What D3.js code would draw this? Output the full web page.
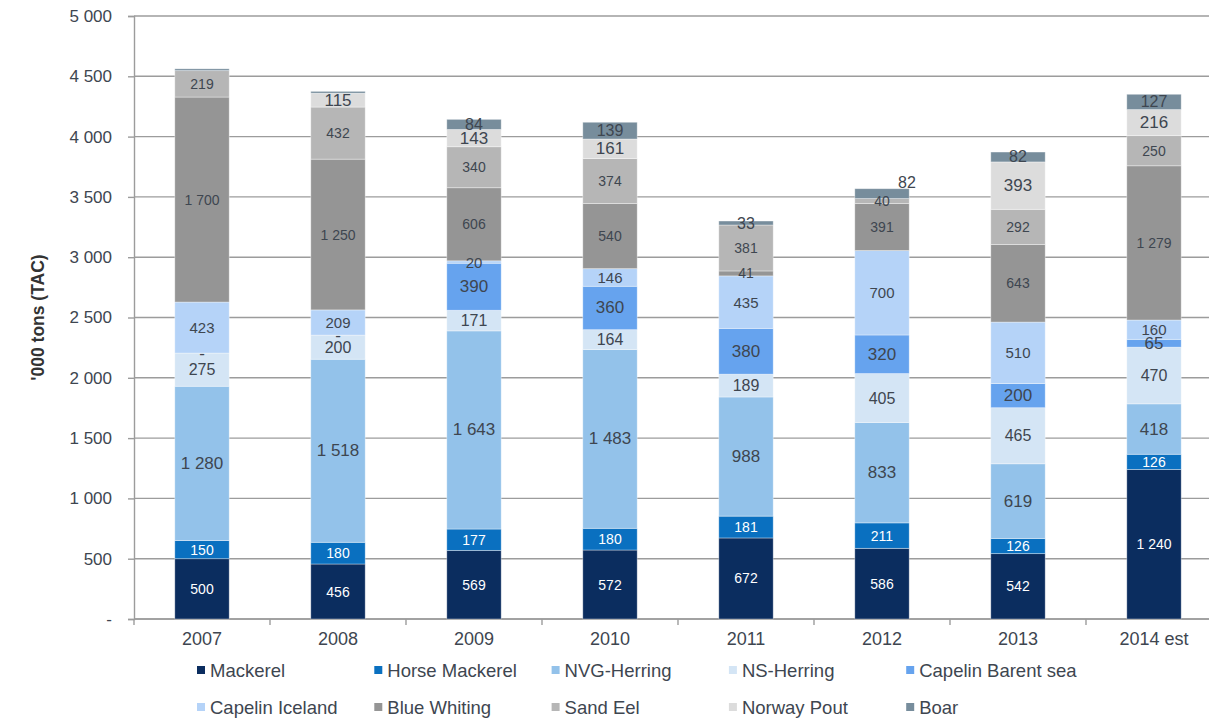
<!DOCTYPE html>
<html>
<head>
<meta charset="utf-8">
<script src="https://cdnjs.cloudflare.com/ajax/libs/d3/7.8.5/d3.min.js"></script>
<style>
  html, body { margin: 0; padding: 0; background: #fff; }
  svg { display: block; font-family: "Liberation Sans", Arial, sans-serif; }
</style>
</head>
<body>
<svg id="chart" width="1209" height="718"></svg>
<script>
// Total allowable catch by species, '000 tons
const years = ["2007", "2008", "2009", "2010", "2011", "2012", "2013", "2014 est"];
const species = ["Mackerel", "Horse Mackerel", "NVG-Herring", "NS-Herring", "Capelin Barent sea",
                 "Capelin Iceland", "Blue Whiting", "Sand Eel", "Norway Pout", "Boar"];

const mackerel        = [500, 456, 569, 572, 672, 586, 542, 1240];
const horseMackerel   = [150, 180, 177, 180, 181, 211, 126, 126];
const nvgHerring      = [1280, 1518, 1643, 1483, 988, 833, 619, 418];
const nsHerring       = [275, 200, 171, 164, 189, 405, 465, 470];
const capelinBarents  = [0, 0, 390, 360, 380, 320, 200, 65];
const capelinIceland  = [423, 209, 20, 146, 435, 700, 510, 160];
const blueWhiting     = [1700, 1250, 606, 540, 41, 391, 643, 1279];
const sandEel         = [219, 432, 340, 374, 381, 40, 292, 250];
const norwayPout      = [null, 115, 143, 161, null, null, 393, 216];
const boar            = [15, 15, 84, 139, 33, 82, 82, 127];

const yTicks = [0, 500, 1000, 1500, 2000, 2500, 3000, 3500, 4000, 4500, 5000];

const seriesValues = [mackerel, horseMackerel, nvgHerring, nsHerring, capelinBarents,
                      capelinIceland, blueWhiting, sandEel, norwayPout, boar];

const colors = ["#0b2d5f", "#0a70c0", "#93c2ea", "#d4e5f5", "#66a3ee",
                "#b5d3f8", "#959595", "#b6b6b6", "#dcdcdc", "#778d9c"];
const labelSizes = [14, 14, 17, 16, 17, 15, 14, 14, 17, 16];
const labelColors = ["#ffffff", "#ffffff", "#3e4650", "#3e4650", "#3e4650",
                     "#3e4650", "#3e4650", "#3e4650", "#3e4650", "#3e4650"];

// thin slivers drawn without a value label
const unlabeled = new Set(["2007|Boar", "2008|Boar"]);
// labels placed off-centre
const labelNudge = { "2012|Boar": [25, -11] };

const rows = years.map((yr, i) => {
  const r = { year: yr };
  species.forEach((s, k) => { r[s] = seriesValues[k][i]; });
  return r;
});

const svg = d3.select("#chart");
const plotLeft = 134, plotTop = 16, plotBottom = 619, step = 136;
const plotRight = plotLeft + step * years.length;

const x = d3.scaleBand().domain(years).range([plotLeft, plotRight]).paddingInner(0.6).paddingOuter(0.3);
const y = d3.scaleLinear().domain([0, 5000]).range([plotBottom, plotTop]);

const fmt = d3.formatLocale({ decimal: ",", thousands: " ", grouping: [3], currency: ["", ""] }).format(",d");

// gridlines
svg.append("g").selectAll("line").data(yTicks).join("line")
  .attr("x1", plotLeft).attr("x2", plotRight)
  .attr("y1", d => y(d)).attr("y2", d => y(d))
  .attr("stroke", "#9c9c9c").attr("stroke-width", 1.4);

// y axis
const yAxis = svg.append("g").attr("transform", `translate(${plotLeft},0)`)
  .call(d3.axisLeft(y).tickValues(yTicks).tickSize(6).tickPadding(16)
    .tickFormat(d => d === 0 ? "-" : fmt(d)));
yAxis.select(".domain").attr("stroke", "#9c9c9c").attr("stroke-width", 1.4);
yAxis.selectAll(".tick line").attr("stroke", "#9c9c9c").attr("stroke-width", 1.4);
yAxis.selectAll(".tick text").attr("font-size", 17).attr("fill", "#3e4650")
  .attr("font-family", "Liberation Sans, Arial, sans-serif");

// x axis with ticks at band boundaries
const xAxis = svg.append("g").attr("transform", `translate(0,${plotBottom})`)
  .call(d3.axisBottom(x).tickSize(0).tickPadding(13));
xAxis.select(".domain").remove();
xAxis.selectAll(".tick text").attr("font-size", 18).attr("fill", "#3e4650")
  .attr("font-family", "Liberation Sans, Arial, sans-serif");
svg.append("line").attr("x1", plotLeft).attr("x2", plotRight).attr("y1", plotBottom).attr("y2", plotBottom)
  .attr("stroke", "#9c9c9c").attr("stroke-width", 1.4);
svg.append("g").selectAll("line").data(d3.range(years.length + 1)).join("line")
  .attr("x1", i => plotLeft + i * step).attr("x2", i => plotLeft + i * step)
  .attr("y1", plotBottom).attr("y2", plotBottom + 6)
  .attr("stroke", "#9c9c9c").attr("stroke-width", 1.4);

// y axis title
svg.append("text")
  .attr("transform", `translate(38,${(plotTop + plotBottom) / 2}) rotate(-90)`)
  .attr("text-anchor", "middle").attr("dominant-baseline", "central")
  .attr("font-size", 17.5).attr("font-weight", "bold").attr("fill", "#333")
  .text("'000 tons (TAC)");

// stacked bars
const stacked = d3.stack().keys(species).value((d, k) => d[k] == null ? 0 : d[k])(rows);

const layers = svg.append("g").selectAll("g").data(stacked).join("g")
  .attr("fill", (d, i) => colors[i]);

layers.selectAll("rect").data(d => d.map(p => ({ p, key: d.key }))).join("rect")
  .attr("x", d => x(d.p.data.year))
  .attr("width", x.bandwidth())
  .attr("y", d => y(d.p[1]))
  .attr("height", d => y(d.p[0]) - y(d.p[1]))
  .attr("stroke", "rgba(255,255,255,0.45)").attr("stroke-width", d => (d.p[1] - d.p[0]) > 0 ? 0.8 : 0);

// value labels
const labels = [];
stacked.forEach((layer, k) => {
  layer.forEach(p => {
    const v = p.data[layer.key];
    const id = p.data.year + "|" + layer.key;
    if (v == null || unlabeled.has(id)) return;
    const nudge = labelNudge[id] || [0, 0];
    labels.push({
      x: x(p.data.year) + x.bandwidth() / 2 + nudge[0],
      y: y((p[0] + p[1]) / 2) + nudge[1],
      text: v === 0 ? "-" : fmt(v),
      size: labelSizes[k],
      color: labelColors[k]
    });
  });
});

svg.append("g").selectAll("text").data(labels).join("text")
  .attr("x", d => d.x).attr("y", d => d.y)
  .attr("text-anchor", "middle").attr("dominant-baseline", "central")
  .attr("font-size", d => d.size).attr("fill", d => d.color)
  .text(d => d.text);

// legend
const legend = svg.append("g").selectAll("g").data(species).join("g")
  .attr("transform", (d, i) => `translate(${197 + (i % 5) * 177.3},${i < 5 ? 670 : 707})`);
legend.append("rect").attr("x", 0).attr("y", -4).attr("width", 8).attr("height", 8)
  .attr("fill", (d, i) => colors[i]);
legend.append("text").attr("x", 13).attr("y", 0).attr("dominant-baseline", "central")
  .attr("font-size", 18.5).attr("fill", "#3e4650").text(d => d);
</script>
</body>
</html>
